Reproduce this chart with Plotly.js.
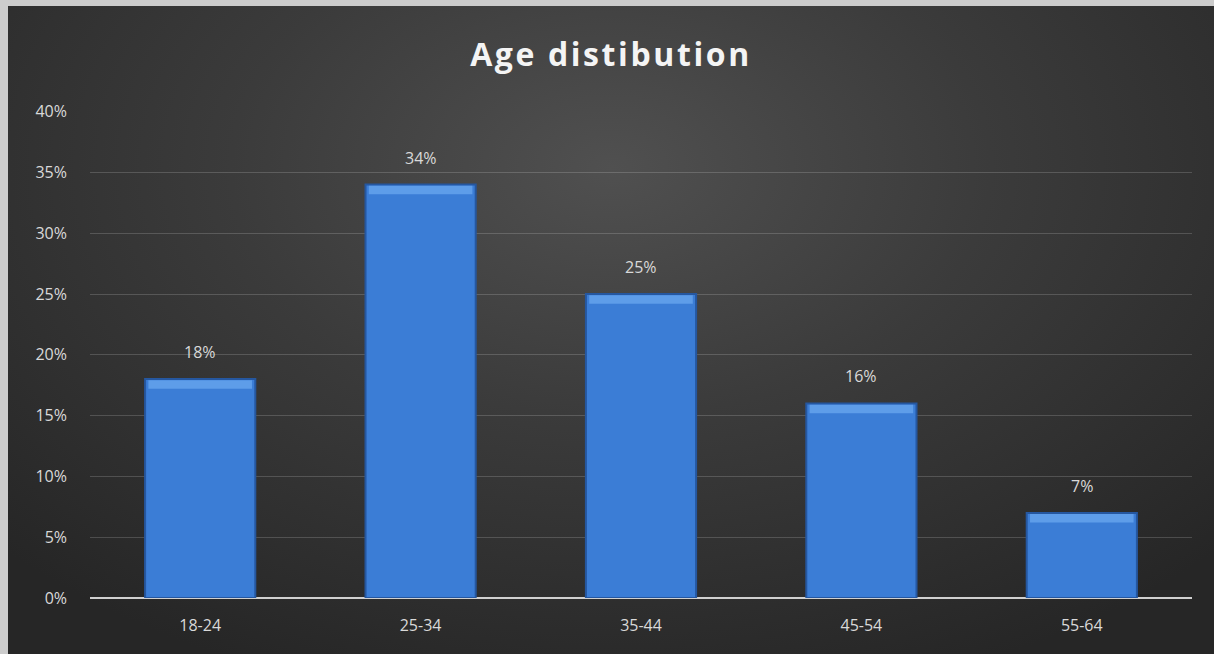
<!DOCTYPE html>
<html>
<head>
<meta charset="utf-8">
<script src="https://cdn.plot.ly/plotly-3.0.1.min.js"></script>
<style>
  html, body { margin: 0; padding: 0; background: #cccccc; }
  #frame {
    position: absolute; left: 8px; top: 6px; width: 1206px; height: 648px;
    background: radial-gradient(ellipse 70% 85% at 50% 25%, #505050 0%, #3b3b3b 45%, #262626 100%);
  }
  #chart { width: 1206px; height: 648px; }
  .gtitle { letter-spacing: 2.6px; }
</style>
</head>
<body>
<div id="frame"><div id="chart"></div></div>
<script>
// Share of respondents by age group
const ageGroups = ['18-24', '25-34', '35-44', '45-54', '55-64'];
const shares = [0.18, 0.34, 0.25, 0.16, 0.07];
const tickValues = [0, 0.05, 0.10, 0.15, 0.20, 0.25, 0.30, 0.35, 0.40];
const tickLabels = ['0%', '5%', '10%', '15%', '20%', '25%', '30%', '35%', '40%'];

const labelFont = { family: 'Open Sans, Noto Sans, sans-serif', size: 16, color: '#d9d9d9' };

const bars = {
  type: 'bar',
  x: ageGroups,
  y: shares,
  marker: {
    color: '#3b7dd6',
    line: { color: '#2557a0', width: 2 }
  },
  hoverinfo: 'x+y'
};

// light band along each bar top for a bevelled look
const highlight = {
  type: 'bar',
  x: ageGroups,
  y: shares.map(() => 0.007),
  base: shares.map(v => v - 0.008),
  marker: { color: '#5e9de9', line: { width: 0 } },
  width: 0.47,
  hoverinfo: 'skip',
  showlegend: false
};

// value labels above the bars
const valueLabels = shares.map((v, i) => ({
  x: ageGroups[i],
  y: v,
  text: Math.round(v * 100) + '%',
  showarrow: false,
  yanchor: 'bottom',
  yshift: 14,
  font: labelFont
}));

const layout = {
  width: 1206,
  height: 648,
  paper_bgcolor: 'rgba(0,0,0,0)',
  plot_bgcolor: 'rgba(0,0,0,0)',
  margin: { l: 82, r: 22, t: 105, b: 56 },
  barmode: 'overlay',
  bargap: 0.5,
  showlegend: false,
  annotations: valueLabels,
  title: {
    text: '<b>Age distibution</b>',
    font: { family: 'Open Sans, Noto Sans, sans-serif', size: 32, color: '#f4f4f4' },
    x: 0.5, xanchor: 'center',
    y: 0.925, yanchor: 'middle'
  },
  xaxis: {
    type: 'category',
    tickfont: labelFont,
    showgrid: false,
    showline: false,
    ticks: '',
    ticklabelstandoff: 16
  },
  yaxis: {
    range: [0, 0.4005],
    tickvals: tickValues,
    ticktext: tickLabels,
    tickfont: labelFont,
    showgrid: true,
    gridcolor: 'rgba(255,255,255,0.17)',
    gridwidth: 1,
    zeroline: true,
    zerolinecolor: '#d0d0d0',
    zerolinewidth: 2,
    ticks: '',
    ticklabelstandoff: 22,
    showline: false
  }
};

Plotly.newPlot('chart', [bars, highlight], layout, { displayModeBar: false, staticPlot: true });
</script>
</body>
</html>
